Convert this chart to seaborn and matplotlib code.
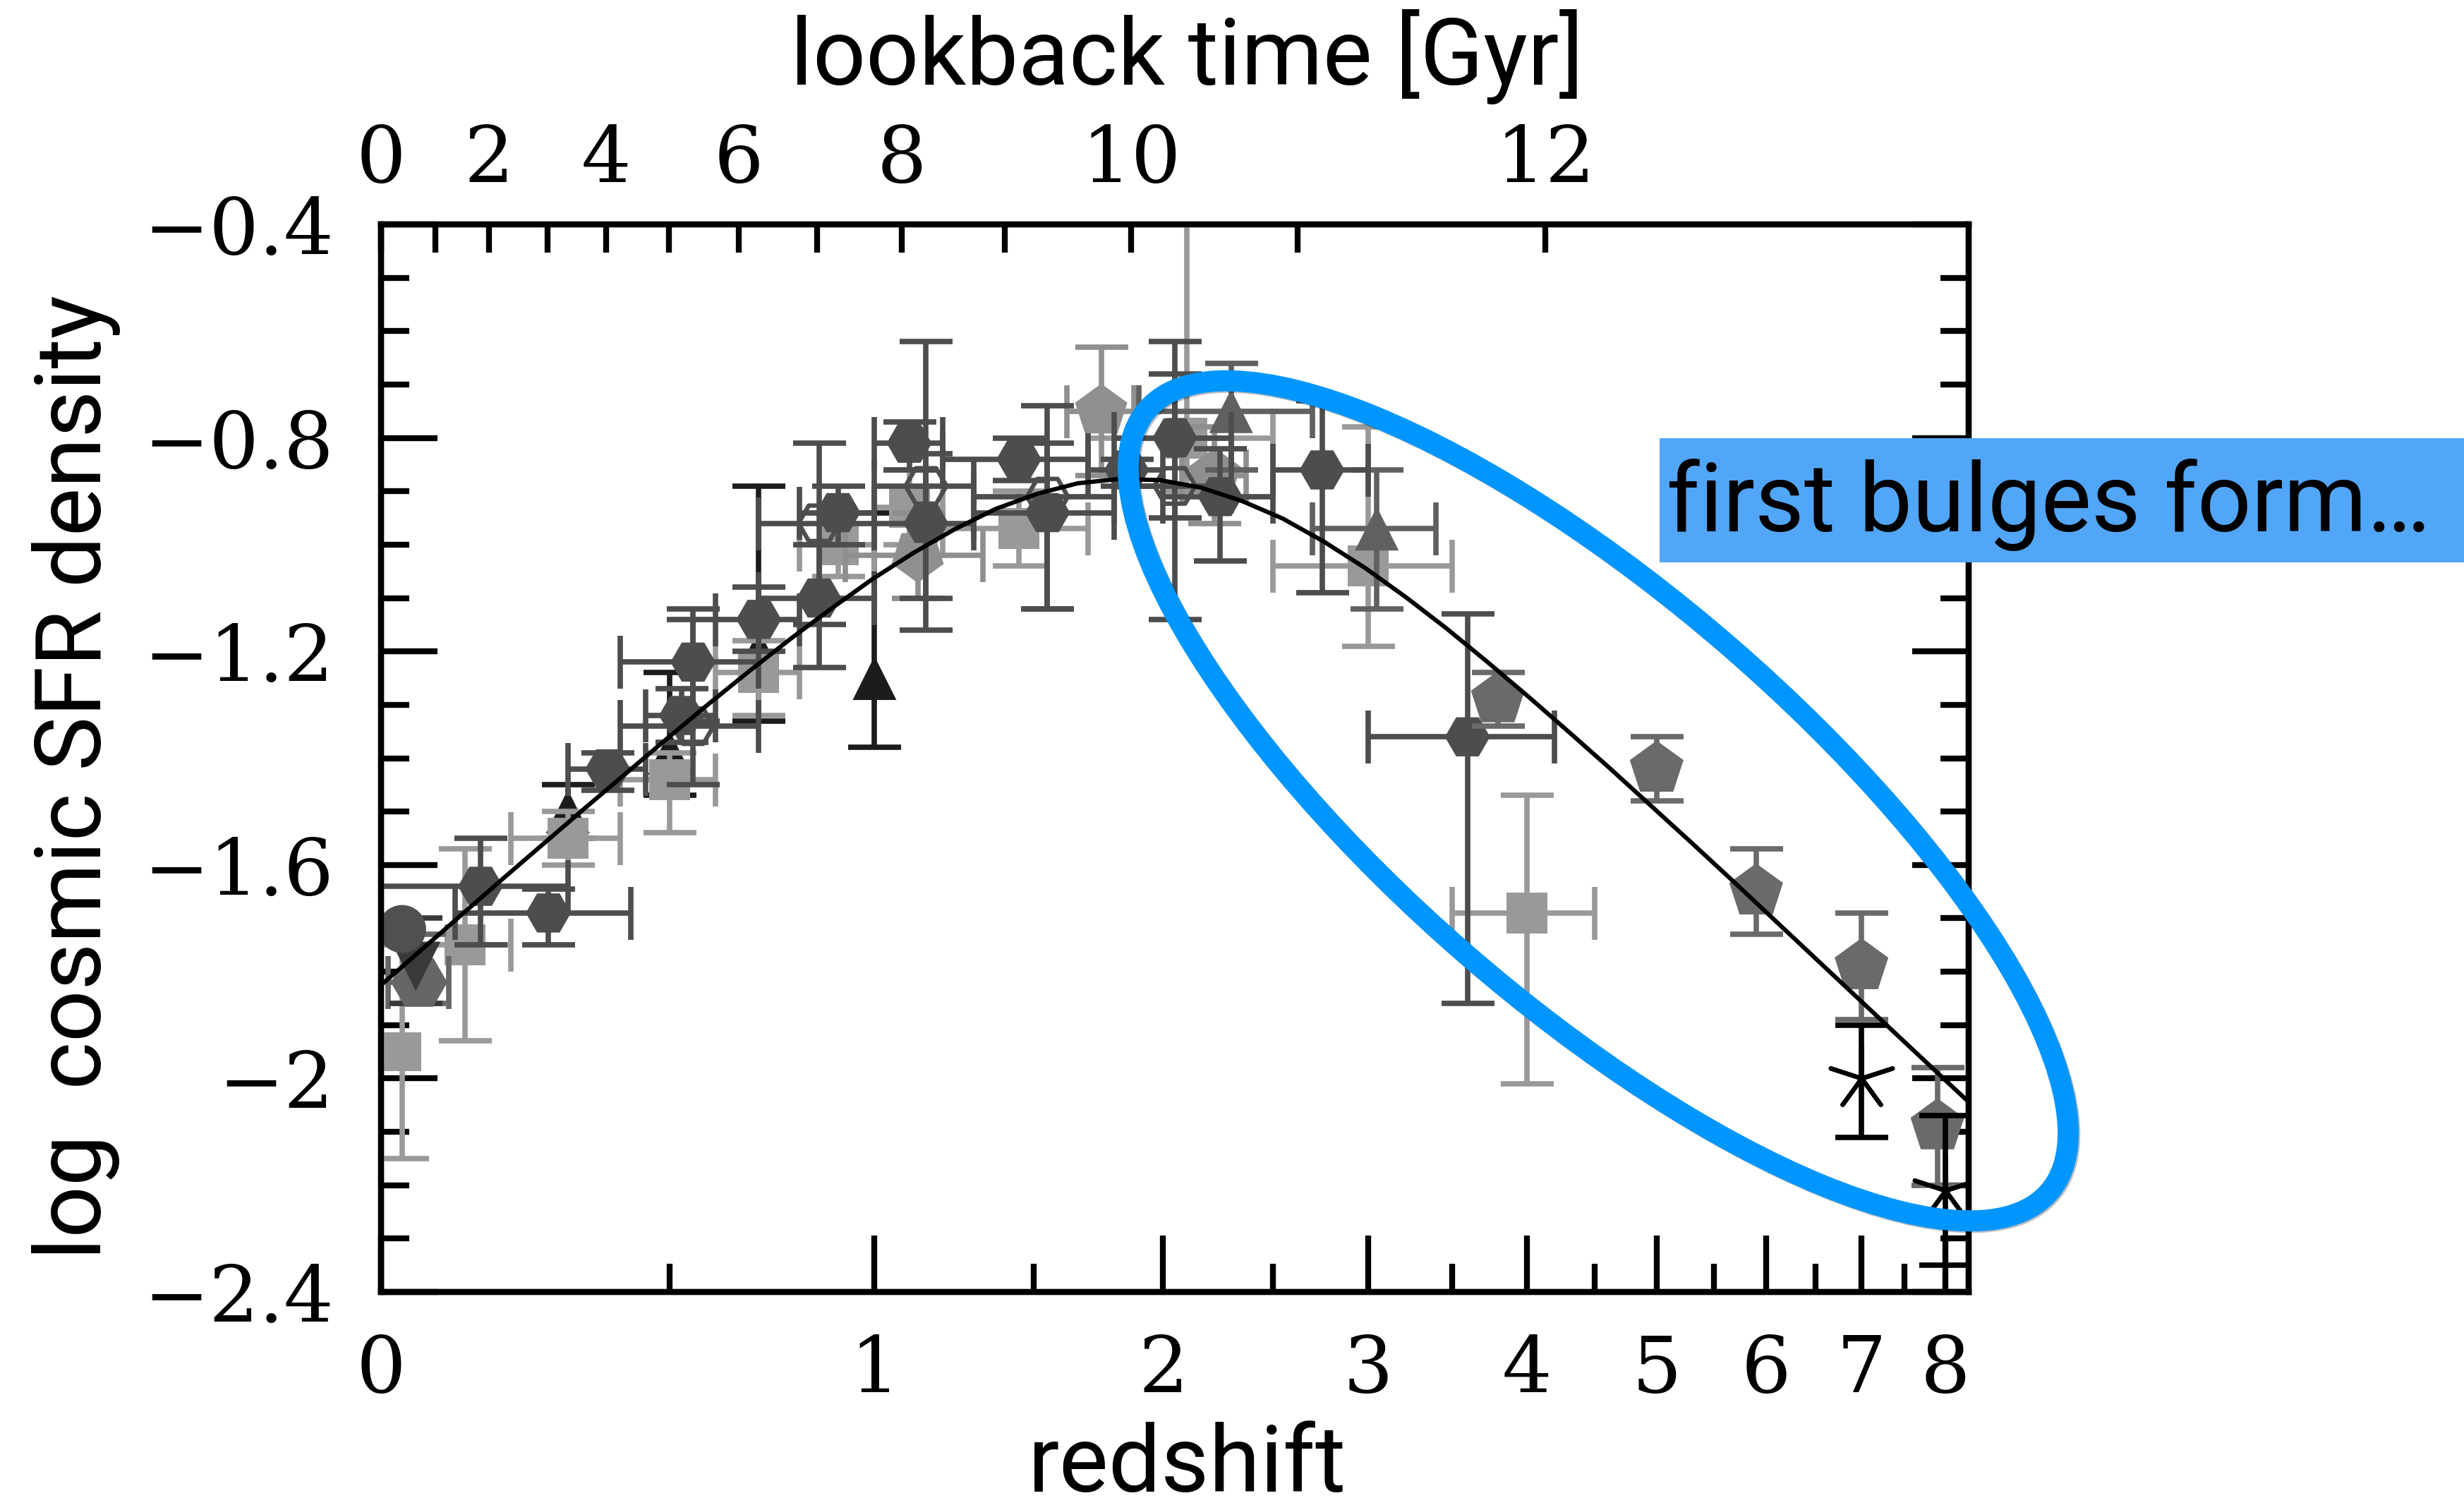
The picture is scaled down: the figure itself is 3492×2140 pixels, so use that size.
import numpy as np
import matplotlib
matplotlib.use("Agg")
import matplotlib.pyplot as plt
from matplotlib.patches import Ellipse, Rectangle
from matplotlib.transforms import IdentityTransform
from matplotlib.ticker import FixedLocator, NullLocator
import matplotlib.patheffects as pe
import seaborn as sns

# ------------------------------------------------------------------ data
# Gruppioni-like far-IR points (filled dark hexagons)
grp_zlo = [0.00, 0.30, 0.45, 0.60, 0.80, 1.00, 1.20, 1.70, 2.00, 2.50, 3.00]
grp_zhi = [0.30, 0.45, 0.60, 0.80, 1.00, 1.20, 1.70, 2.00, 2.50, 3.00, 4.20]
grp_sfr = [-1.64, -1.42, -1.32, -1.14, -0.94, -0.81, -0.84, -0.86, -0.91, -0.86, -1.36]
grp_up = [0.09, 0.03, 0.05, 0.06, 0.05, 0.04, 0.04, 0.02, 0.09, 0.13, 0.23]
grp_dn = [0.11, 0.04, 0.05, 0.06, 0.06, 0.05, 0.04, 0.03, 0.12, 0.23, 0.50]

# filled dark hexagons (second IR set)
m13_zlo = [0.11, 0.40, 0.70, 1.00, 1.30, 1.80]
m13_zhi = [0.42, 0.70, 1.00, 1.30, 1.80, 2.30]
m13_sfr = [-1.69, -1.22, -1.10, -0.96, -0.94, -0.80]
m13_up = [0.045, 0.08, 0.10, 0.13, 0.13, 0.18]
m13_dn = [0.06, 0.11, 0.13, 0.20, 0.18, 0.15]

# open hexagons
m11_zlo = [0.40, 0.70, 1.00, 1.30, 1.80]
m11_zhi = [0.70, 1.00, 1.30, 1.80, 2.30]
m11_sfr = [-1.34, -0.96, -0.89, -0.91, -0.89]
m11_up = [0.22, 0.15, 0.27, 0.17, 0.21]
m11_dn = [0.11, 0.19, 0.21, 0.21, 0.25]

# light grey squares
cuc_zlo = [0.05, 0.20, 0.40, 0.60, 0.80, 1.00, 1.20, 1.70, 2.50, 3.50]
cuc_zhi = [0.20, 0.40, 0.60, 0.80, 1.00, 1.20, 1.70, 2.50, 3.50, 4.50]
cuc_sfr = [-1.75, -1.55, -1.44, -1.24, -1.00, -0.93, -0.97, -0.80, -1.04, -1.69]
cuc_up = [0.18, 0.05, 0.05, 0.06, 0.06, 0.07, 0.07, 0.50, 0.26, 0.22]
cuc_dn = [0.18, 0.05, 0.10, 0.08, 0.06, 0.07, 0.07, 0.10, 0.15, 0.32]

# light grey pentagons
dah_zlo = [0.92, 1.62, 2.08]
dah_zhi = [1.33, 1.88, 2.37]
dah_sfr = [-1.02, -0.75, -0.87]
dah_up = [0.08, 0.12, 0.09]
dah_dn = [0.08, 0.12, 0.09]

# grey triangles
red_zlo = [1.9, 2.7]
red_zhi = [2.7, 3.4]
red_sfr = [-0.75, -0.97]
red_up = [0.09, 0.11]
red_dn = [0.11, 0.15]

# black triangles
sch_z = [0.3, 0.5, 0.7, 1.0]
sch_sfr = [-1.50, -1.39, -1.20, -1.25]
sch_up = [0.05, 0.15, 0.31, 0.31]
sch_dn = [0.05, 0.08, 0.13, 0.13]

# grey pentagons (high z)
bou_z = [3.8, 5.0, 5.9, 7.0, 7.9]
bou_sfr = [-1.29, -1.42, -1.65, -1.79, -2.09]
bou_err = [0.05, 0.06, 0.08, 0.10, 0.11]

# black asterisks
sck_z = [7.0, 8.0]
sck_sfr = [-2.00, -2.21]
sck_up = [0.10, 0.14]
sck_dn = [0.11, 0.14]

# local points
loc_circ_z, loc_circ_sfr = [0.03], [-1.72]
loc_sq_z, loc_sq_sfr, loc_sq_err = [0.03], [-1.95], [0.20]
loc_hex_z, loc_hex_sfr, loc_hex_up, loc_hex_dn = [0.055], [-1.82], [0.09], [0.04]
loc_hex_zlo, loc_hex_zhi = [0.01], [0.10]
loc_tri_z, loc_tri_sfr, loc_tri_up, loc_tri_dn = [0.05], [-1.79], [0.09], [0.07]

# best-fit curve
fit_z = [0.0, 0.0593, 0.1220, 0.1885, 0.2589, 0.3335, 0.4125, 0.4962, 0.5849,
         0.6788, 0.7783, 0.8836, 0.9953, 1.1135, 1.2387, 1.3714, 1.5119, 1.6607,
         1.8184, 1.9854, 2.1623, 2.3497, 2.5481, 2.7584, 2.9811, 3.2170, 3.4668,
         3.7315, 4.0119, 4.3088, 4.6234, 4.9566, 5.3096, 5.6834, 6.0795, 6.4989,
         6.9433, 7.4140, 7.9125, 8.30]
fit_sfr = [-1.825, -1.758, -1.691, -1.624, -1.558, -1.492, -1.427, -1.362, -1.298,
           -1.236, -1.176, -1.119, -1.064, -1.015, -0.971, -0.933, -0.905, -0.885,
           -0.877, -0.879, -0.893, -0.918, -0.951, -0.994, -1.043, -1.098, -1.157,
           -1.220, -1.285, -1.352, -1.420, -1.490, -1.560, -1.631, -1.703, -1.775,
           -1.847, -1.919, -1.991, -2.044]

# axes ticks
z_major = [0, 1, 2, 3, 4, 5, 6, 7, 8]
z_major_labels = ["0", "1", "2", "3", "4", "5", "6", "7", "8"]
z_minor = [0.5, 1.5, 2.5, 3.5, 4.5, 5.5, 6.5, 7.5]
lookback_z = [0.0, 0.079, 0.164, 0.264, 0.372, 0.498, 0.653, 0.845, 1.078,
              1.402, 1.869, 2.624, 4.13]
lookback_labels = ["0", "", "2", "", "4", "", "6", "", "8", "", "10", "", "12"]
y_major = [-2.4, -2.0, -1.6, -1.2, -0.8, -0.4]
y_major_labels = ["\u22122.4", "\u22122", "\u22121.6", "\u22121.2", "\u22120.8", "\u22120.4"]
y_minor = [-2.3, -2.2, -2.1, -1.9, -1.8, -1.7, -1.5, -1.4, -1.3, -1.1, -1.0, -0.9, -0.7, -0.6, -0.5]

# ------------------------------------------------------------------ style
sns.set_theme(style="ticks")
plt.rcParams["font.family"] = ["DejaVu Serif"]
plt.rcParams["axes.linewidth"] = 6
plt.rcParams["text.color"] = "black"
plt.rcParams["xtick.labelcolor"] = "black"
plt.rcParams["ytick.labelcolor"] = "black"

PT = 0.72  # points per pixel at dpi=100

fig = plt.figure(figsize=(34.92, 21.40), dpi=100)
ax = fig.add_axes([540 / 3492, 309 / 2140, 2250 / 3492, 1513 / 2140])
ax.set_facecolor("white")

fwd = lambda z: np.log10(1.0 + np.asarray(z, dtype=float))
inv = lambda u: 10.0 ** np.asarray(u, dtype=float) - 1.0
ax.set_xscale("function", functions=(fwd, inv))

ELW = 5.5
CAP = 27
def ebars(z, y, up, dn, color, zlo=None, zhi=None, zorder=2):
    z = np.asarray(z, float)
    xerr = None
    if zlo is not None:
        xerr = [z - np.asarray(zlo), np.asarray(zhi) - z]
    ax.errorbar(z, y, yerr=[dn, up], xerr=xerr, fmt="none", ecolor=color,
                elinewidth=ELW, capsize=CAP, capthick=ELW, zorder=zorder)

def mid(lo, hi):
    return list((np.asarray(lo) + np.asarray(hi)) / 2.0)

def pts(z, y, marker, ms_px, color, zorder, face=None, lw=0):
    kw = dict(x=z, y=y, marker=marker, s=(ms_px * PT) ** 2, ax=ax, legend=False,
              zorder=zorder)
    if face == "none":
        sns.scatterplot(**kw, color=color, facecolor="none", edgecolor=color,
                        linewidth=lw)
    elif lw > 0:
        sns.scatterplot(**kw, color=color, linewidth=lw)
    else:
        sns.scatterplot(**kw, color=color, edgecolor="none", linewidth=0)

C_DARK = "#4d4d4d"
C_LIGHT = "#999999"
C_PENT = "#6a6a6a"
C_TRI = "#606060"
C_BLK = "#1c1c1c"

# black triangles
ebars(sch_z, sch_sfr, sch_up, sch_dn, C_BLK, zorder=2)
pts(sch_z, sch_sfr, "^", 62, C_BLK, 3)

# light squares
cz = mid(cuc_zlo, cuc_zhi)
ebars(cz, cuc_sfr, cuc_up, cuc_dn, C_LIGHT, cuc_zlo, cuc_zhi, zorder=4)
pts(cz, cuc_sfr, "s", 58, C_LIGHT, 5)
ebars(loc_sq_z, loc_sq_sfr, loc_sq_err, loc_sq_err, C_LIGHT, zorder=4)
pts(loc_sq_z, loc_sq_sfr, "s", 55, C_LIGHT, 5)

# light pentagons
dz = mid(dah_zlo, dah_zhi)
ebars(dz, dah_sfr, dah_up, dah_dn, "#8f8f8f", dah_zlo, dah_zhi, zorder=6)
pts(dz[:1], dah_sfr[:1], (5, 0, 180), 78, "#8f8f8f", 7)
pts(dz[1:], dah_sfr[1:], "p", 78, "#8f8f8f", 7)

# grey triangles
rz = mid(red_zlo, red_zhi)
ebars(rz, red_sfr, red_up, red_dn, C_TRI, red_zlo, red_zhi, zorder=8)
pts(rz, red_sfr, "^", 62, C_TRI, 9)

# open hexagons
mz11 = mid(m11_zlo, m11_zhi)
ebars(mz11, m11_sfr, m11_up, m11_dn, C_DARK, m11_zlo, m11_zhi, zorder=10)
pts(mz11, m11_sfr, "H", 58, C_DARK, 11, face="none", lw=4.5)

# dark hexagons
mz13 = mid(m13_zlo, m13_zhi)
ebars(mz13, m13_sfr, m13_up, m13_dn, C_DARK, m13_zlo, m13_zhi, zorder=12)
pts(mz13, m13_sfr, "H", 64, C_DARK, 13)
gz = mid(grp_zlo, grp_zhi)
ebars(gz, grp_sfr, grp_up, grp_dn, C_DARK, grp_zlo, grp_zhi, zorder=12)
pts(gz, grp_sfr, "H", 64, C_DARK, 13)

# local points
ebars(loc_hex_z, loc_hex_sfr, loc_hex_up, loc_hex_dn, "#666666", loc_hex_zlo, loc_hex_zhi, zorder=14)
pts(loc_hex_z, loc_hex_sfr, "H", 80, "#666666", 15)
ebars(loc_tri_z, loc_tri_sfr, loc_tri_up, loc_tri_dn, "#3a3a3a", zorder=14)
pts(loc_tri_z, loc_tri_sfr, "v", 70, "#3a3a3a", 15)
pts(loc_circ_z, loc_circ_sfr, "o", 68, "#505050", 16)

# high-z pentagons and asterisks
ebars(bou_z, bou_sfr, bou_err, bou_err, C_PENT, zorder=17)
pts(bou_z, bou_sfr, "p", 80, C_PENT, 18)
ebars(sck_z, sck_sfr, sck_up, sck_dn, "black", zorder=19)
pts(sck_z, sck_sfr, (5, 2, 0), 92, "black", 20, lw=4.5)

# fit curve
sns.lineplot(x=fit_z, y=fit_sfr, color="black", linewidth=4.4, ax=ax,
             sort=False, estimator=None, zorder=25)

# ------------------------------------------------------------------ axes
ax.set_xscale("function", functions=(fwd, inv))
ax.set_xlim(0, 8.30)
ax.set_ylim(-2.4, -0.4)
ax.set_xlabel("")
ax.set_ylabel("")
ax.xaxis.set_major_locator(FixedLocator(z_major))
ax.xaxis.set_minor_locator(FixedLocator(z_minor))
ax.set_xticklabels(z_major_labels)
ax.yaxis.set_major_locator(FixedLocator(y_major))
ax.yaxis.set_minor_locator(FixedLocator(y_minor))
ax.set_yticklabels(y_major_labels)

TICK_FS = 80
ax.tick_params(axis="both", which="both", direction="in", width=6, color="black")
ax.tick_params(axis="both", which="major", length=80 * PT)
ax.tick_params(axis="both", which="minor", length=40 * PT)
ax.tick_params(axis="y", which="both", left=True, right=True)
ax.tick_params(axis="x", which="both", bottom=True, top=False)
ax.tick_params(axis="y", which="major", labelsize=TICK_FS, pad=48, labelcolor="black")
ax.tick_params(axis="x", which="major", labelsize=TICK_FS, pad=42, labelcolor="black")
for s in ax.spines.values():
    s.set_linewidth(6)
    s.set_color("black")

ax2 = ax.twiny()
ax2.set_xscale("function", functions=(fwd, inv))
ax2.set_xlim(0, 8.30)
ax2.xaxis.set_major_locator(FixedLocator(lookback_z))
ax2.xaxis.set_minor_locator(NullLocator())
ax2.set_xticklabels(lookback_labels)
ax2.tick_params(axis="x", which="major", direction="in", length=40 * PT, width=6,
                top=True, bottom=False, labelsize=TICK_FS, pad=27, color="black",
                labelcolor="black")
for s in ax2.spines.values():
    s.set_linewidth(6)
    s.set_color("black")

# axis titles
fig.text(1682 / 3492, (2140 - 120) / 2140, "lookback time [Gyr]", family="Roboto",
         fontsize=95, ha="center", va="baseline", color="black")
fig.text(1683 / 3492, (2140 - 2114) / 2140, "redshift", family="Roboto",
         fontsize=95, ha="center", va="baseline", color="black")
fig.text(143 / 3492, (2140 - 1102) / 2140, "log  cosmic SFR density", family="Roboto",
         fontsize=93, ha="center", va="baseline", rotation=90, rotation_mode="anchor",
         color="black")

# ------------------------------------------------------------------ annotation
ell = Ellipse((2265, 2140 - 1135), width=1692, height=574, angle=-40.95,
              fill=False, edgecolor="#0096ff", linewidth=30 * PT,
              transform=IdentityTransform(), zorder=4)
ell.set_path_effects([pe.SimpleLineShadow(offset=(1.5, -1.5), shadow_color="black",
                                          alpha=0.25), pe.Normal()])
fig.add_artist(ell)

box = Rectangle((2352 / 3492, (2140 - 797) / 2140), (3492 - 2352) / 3492, 176 / 2140,
                transform=fig.transFigure, facecolor="#52a6f7", edgecolor="none",
                zorder=5)
fig.add_artist(box)
fig.text(2362 / 3492, (2140 - 753) / 2140, "first bulges form\u2026", family="Roboto",
         fontsize=97, ha="left", va="baseline", zorder=6, color="black")

fig.savefig("out.png", dpi=100, facecolor="white")
